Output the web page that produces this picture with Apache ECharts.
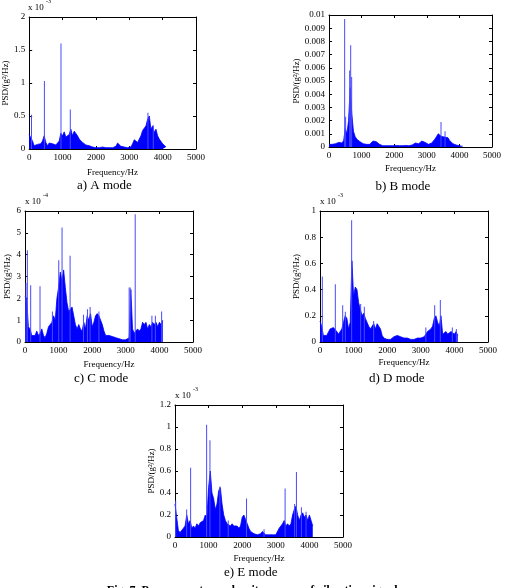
<!DOCTYPE html>
<html>
<head>
<meta charset="utf-8">
<script src="https://cdn.jsdelivr.net/npm/echarts@6/dist/echarts.min.js"></script>
<style>
  html, body { margin: 0; padding: 0; background: #fff; }
  #chart { width: 509px; height: 588px; }
</style>
</head>
<body>
<div id="chart"></div>
<script>
// PSD, one value every 50 Hz from 0 to 4100 Hz
// (units: A,D,E x1e-3, B x1e-3 shown as plain numbers, C x1e-4)
const STEP = 50

const bodyA = [0.22, 0.24, 0.12, 0.05, 0.04, 0.07, 0.05, 0.08, 0.12, 0.2, 0.1, 0.05, 0.09, 0.06, 0.08, 0.1, 0.06, 0.08, 0.12, 0.24,
  0.2, 0.26, 0.18, 0.2, 0.22, 0.3, 0.2, 0.27, 0.26, 0.2, 0.15, 0.12, 0.1, 0.08, 0.06, 0.05, 0.05, 0.04, 0.03, 0.03,
  0.02, 0.02, 0.02, 0.02, 0.03, 0.02, 0.02, 0.03, 0.02, 0.03, 0.02, 0.03, 0.04, 0.09, 0.06, 0.04, 0.05, 0.03, 0.04, 0.02,
  0.02, 0.03, 0.08, 0.14, 0.12, 0.1, 0.15, 0.2, 0.28, 0.25, 0.35, 0.45, 0.5, 0.3, 0.35, 0.25, 0.3, 0.2, 0.15, 0.12,
  0.08, 0.05, 0.03]
const spikesA = [[70, 0.52], [457, 1.03], [954, 1.6], [1233, 0.6], [3560, 0.55], [3720, 0.36]]

const bodyB = [0.2, 0.25, 0.2, 0.3, 0.25, 0.3, 0.35, 0.25, 0.3, 0.5, 1.4, 1.0, 2.0, 4.5, 2.5, 1.2, 0.8, 0.6, 0.5, 0.4,
  0.3, 0.25, 0.3, 0.2, 0.25, 0.2, 0.3, 0.45, 0.5, 0.4, 0.3, 0.2, 0.15, 0.1, 0.15, 0.1, 0.12, 0.1, 0.15, 0.1,
  0.1, 0.12, 0.1, 0.1, 0.12, 0.1, 0.1, 0.12, 0.1, 0.1, 0.12, 0.15, 0.25, 0.3, 0.2, 0.25, 0.35, 0.45, 0.4, 0.35,
  0.25, 0.2, 0.25, 0.3, 0.4, 0.6, 0.8, 1.0, 0.9, 0.8, 0.85, 0.75, 0.8, 0.7, 0.5, 0.35, 0.25, 0.2, 0.15, 0.1,
  0.1, 0.08, 0.05]
const spikesB = [[480, 9.7], [510, 2.3], [634, 5.8], [665, 7.7], [695, 5.3], [3436, 1.9], [3560, 1.2]]

const bodyC = [2.1, 2.0, 0.7, 0.6, 0.3, 0.35, 0.3, 0.5, 0.3, 0.4, 0.6, 0.3, 0.2, 0.4, 0.7, 0.8, 0.9, 1.2, 1.0, 2.0,
  2.5, 3.2, 2.8, 3.3, 2.5, 1.8, 1.4, 1.5, 1.6, 1.2, 0.8, 0.6, 0.8, 0.6, 0.5, 0.9, 0.6, 1.2, 1.0, 1.3,
  0.7, 0.9, 1.2, 1.3, 1.2, 1.0, 0.8, 0.5, 0.3, 0.35, 0.3, 0.3, 0.25, 0.3, 0.2, 0.2, 0.15, 0.15, 0.1, 0.15,
  0.1, 0.1, 0.2, 2.4, 0.6, 0.4, 0.5, 0.6, 0.5, 0.6, 0.9, 0.8, 0.9, 0.6, 0.8, 0.7, 0.9, 0.8, 0.9, 0.7,
  0.9, 0.8, 1.0]
const spikesC = [[30, 2.7], [70, 4.2], [169, 2.6], [447, 2.55], [815, 1.4], [1004, 3.75], [1103, 5.25], [1342, 3.95],
  [1740, 1.25], [1859, 1.5], [1938, 1.6], [2200, 1.4], [3100, 2.5], [3130, 2.5], [3280, 5.85], [3777, 1.2], [3880, 1.2], [4066, 1.4]]

const bodyD = [0.16, 0.12, 0.05, 0.04, 0.05, 0.04, 0.1, 0.09, 0.11, 0.1, 0.08, 0.06, 0.05, 0.1, 0.15, 0.2, 0.18, 0.1, 0.15, 0.62,
  0.35, 0.42, 0.4, 0.3, 0.25, 0.2, 0.22, 0.18, 0.15, 0.12, 0.1, 0.12, 0.14, 0.1, 0.14, 0.13, 0.1, 0.05, 0.03, 0.03,
  0.02, 0.03, 0.02, 0.03, 0.04, 0.04, 0.05, 0.04, 0.04, 0.03, 0.03, 0.02, 0.03, 0.02, 0.02, 0.03, 0.02, 0.02, 0.03, 0.02,
  0.03, 0.02, 0.04, 0.05, 0.08, 0.07, 0.1, 0.12, 0.18, 0.2, 0.15, 0.12, 0.2, 0.06, 0.05, 0.08, 0.06, 0.07, 0.08, 0.07,
  0.06, 0.08, 0.05]
const spikesD = [[69, 0.5], [456, 0.44], [675, 0.28], [754, 0.23], [942, 0.93], [1210, 0.29], [1319, 0.27], [1597, 0.16],
  [3150, 0.11], [3413, 0.28], [3581, 0.32], [3938, 0.11], [4058, 0.1]]

const bodyE = [0.3, 0.18, 0.06, 0.04, 0.05, 0.08, 0.1, 0.2, 0.12, 0.15, 0.08, 0.1, 0.08, 0.12, 0.1, 0.13, 0.12, 0.15, 0.2, 0.18,
  0.45, 0.6, 0.4, 0.35, 0.25, 0.3, 0.42, 0.45, 0.3, 0.2, 0.15, 0.12, 0.13, 0.1, 0.12, 0.1, 0.09, 0.1, 0.08, 0.1,
  0.18, 0.2, 0.16, 0.12, 0.08, 0.05, 0.04, 0.03, 0.03, 0.02, 0.03, 0.03, 0.05, 0.04, 0.02, 0.02, 0.02, 0.01, 0.02, 0.01,
  0.02, 0.02, 0.08, 0.1, 0.12, 0.15, 0.1, 0.12, 0.1, 0.12, 0.2, 0.25, 0.28, 0.2, 0.15, 0.2, 0.22, 0.18, 0.2, 0.15,
  0.2, 0.15, 0.1]
const spikesE = [[20, 0.33], [347, 0.25], [465, 0.63], [941, 1.02], [1040, 0.88], [1335, 0.46], [1584, 0.15], [2129, 0.35],
  [2650, 0.07], [3277, 0.44], [3560, 0.3], [3614, 0.59], [3762, 0.27], [3900, 0.23]]

const FONT = 'Liberation Serif'

const panels = [
  { body: bodyA, spikes: spikesA, grid: { left: 28, top: 17, width: 168, height: 132 }, ymax: 2, yint: 0.5, exp: '-3',
    yGap: 16, xGap: 19, caption: 'a) A mode', capY: 187 },
  { body: bodyB, spikes: spikesB, grid: { left: 329, top: 15, width: 163, height: 132 }, ymax: 10, yint: 1, exp: null,
    yGap: 27, xGap: 17, caption: 'b) B mode', capY: 188, fmt: (v) => String(+(v * 0.001).toFixed(3)) },
  { body: bodyC, spikes: spikesC, grid: { left: 25, top: 211, width: 168, height: 131 }, ymax: 6, yint: 1, exp: '-4',
    yGap: 13, xGap: 18, caption: 'c) C mode', capY: 380 },
  { body: bodyD, spikes: spikesD, grid: { left: 320, top: 211, width: 168, height: 131 }, ymax: 1, yint: 0.2, exp: '-3',
    yGap: 19, xGap: 16, caption: 'd) D mode', capY: 380 },
  { body: bodyE, spikes: spikesE, grid: { left: 175, top: 405, width: 168, height: 132 }, ymax: 1.2, yint: 0.2, exp: '-3',
    yGap: 19, xGap: 17, caption: 'e) E mode', capY: 574 }
]

const axisCommon = {
  axisLine: { show: true, onZero: false, lineStyle: { color: '#000', width: 1 } },
  axisTick: { show: true, inside: true, length: 3, lineStyle: { color: '#000' } },
  splitLine: { show: false }
}

const grid = []
const xAxis = []
const yAxis = []
const series = []
const graphic = []

panels.forEach((p, i) => {
  grid.push(p.grid)
  const fmt = p.fmt || ((v) => String(+v.toFixed(2)))
  xAxis.push({
    ...axisCommon, type: 'value', gridIndex: i, min: 0, max: 5000, interval: 1000, position: 'bottom',
    axisLabel: { color: '#000', fontFamily: FONT, fontSize: 9, margin: 4, formatter: (v) => String(v) },
    name: 'Frequency/Hz', nameLocation: 'middle', nameGap: p.xGap,
    nameTextStyle: { color: '#000', fontFamily: FONT, fontSize: 9 }
  })
  xAxis.push({
    ...axisCommon, type: 'value', gridIndex: i, min: 0, max: 5000, interval: 1000, position: 'top',
    axisLabel: { show: false }
  })
  yAxis.push({
    ...axisCommon, type: 'value', gridIndex: i, min: 0, max: p.ymax, interval: p.yint, position: 'left',
    axisLabel: { color: '#000', fontFamily: FONT, fontSize: 9, margin: 4, formatter: fmt },
    name: 'PSD/(g²/Hz)', nameLocation: 'middle', nameGap: p.yGap, nameRotate: 90,
    nameTextStyle: { color: '#000', fontFamily: FONT, fontSize: 9 }
  })
  yAxis.push({
    ...axisCommon, type: 'value', gridIndex: i, min: 0, max: p.ymax, interval: p.yint, position: 'right',
    axisLabel: { show: false }
  })
  series.push({
    type: 'line', xAxisIndex: i * 2, yAxisIndex: i * 2, showSymbol: false, silent: true,
    data: p.body.map((v, k) => [k * STEP, v]),
    lineStyle: { color: '#0000ff', width: 0.8 },
    areaStyle: { color: '#0000ff', opacity: 1 },
    z: 2
  })
  series.push({
    type: 'bar', xAxisIndex: i * 2, yAxisIndex: i * 2, barWidth: 1, silent: true,
    data: p.spikes,
    itemStyle: { color: '#4a4aff' },
    z: 3
  })
  const cx = p.grid.left + p.grid.width / 2
  graphic.push({
    type: 'text', left: cx - 35, top: p.capY - 8,
    style: { text: p.caption, fontFamily: FONT, fontSize: 13, fill: '#000', width: 70, align: 'center' }
  })
  if (p.exp) {
    graphic.push({
      type: 'text', left: p.grid.left, top: p.grid.top - 14,
      style: { text: 'x 10', fontFamily: FONT, fontSize: 9, fill: '#000' }
    })
    graphic.push({
      type: 'text', left: p.grid.left + 18, top: p.grid.top - 19,
      style: { text: p.exp, fontFamily: FONT, fontSize: 6, fill: '#000' }
    })
  }
})

graphic.push({
  type: 'text', left: 'center', top: 585,
  style: { text: 'Fig. 7  Power spectrum density curves of vibration signals', fontFamily: FONT, fontSize: 12, fontWeight: 'bold', fill: '#000' }
})

const myChart = echarts.init(document.getElementById('chart'), null, { renderer: 'canvas' })
myChart.setOption({
  animation: false,
  backgroundColor: '#fff',
  grid,
  xAxis,
  yAxis,
  series,
  graphic
})
</script>
</body>
</html>
